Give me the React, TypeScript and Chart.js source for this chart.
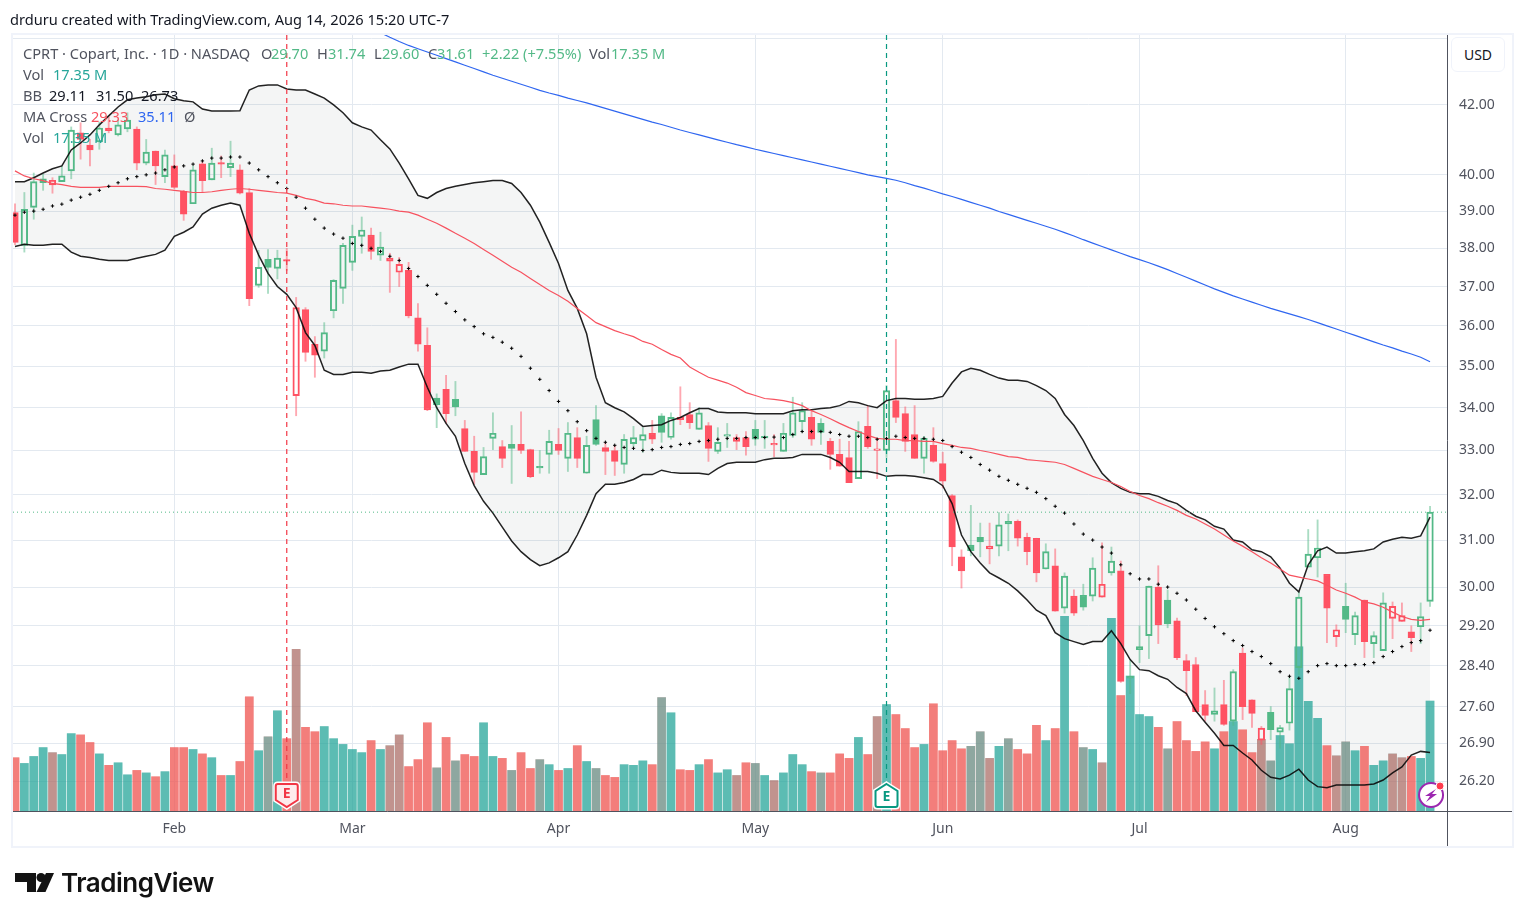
import React, { useEffect, useRef } from "react";
import { Chart, registerables } from "chart.js";

Chart.register(...registerables);

const opens = [38.96,38.08,39.1,39.78,39.72,39.81,40.11,41.19,40.84,40.93,41.33,41.13,41.3,41.3,40.33,40.67,39.95,40.25,39.54,39.2,40.31,39.86,40.31,40.2,40.14,39.51,37.03,37.71,37.47,37.68,34.29,36.41,35.54,35.37,36.38,36.95,37.63,38.32,38.35,37.82,37.66,37.37,37.42,36.2,35.51,34.23,34.44,34.2,33.51,32.98,32.45,33.28,33.09,33.14,33.14,33.02,32.62,32.91,33.14,32.82,33.3,32.48,33.72,33.07,33.0,32.68,33.16,33.23,33.4,33.81,33.3,33.77,33.84,33.49,33.58,32.98,33.33,33.21,33.3,33.49,33.29,33.13,32.98,33.35,33.67,33.77,33.63,33.21,32.91,32.84,32.36,33.56,33.0,33.0,34.17,33.86,33.37,32.82,33.12,32.7,31.98,30.64,30.89,31.06,30.81,30.87,31.41,31.41,31.06,31.04,30.38,30.45,29.56,29.81,29.83,29.81,29.79,30.3,30.34,28.15,28.72,29.0,30.0,29.73,29.3,28.5,28.42,27.64,27.45,27.64,27.32,28.65,27.73,26.96,27.49,27.11,27.28,28.36,30.42,30.62,30.27,28.98,29.6,29.02,29.73,28.84,28.7,29.35,29.29,29.08,29.18,29.7];
const highs = [39.2,39.51,40.05,40.02,39.92,40.25,41.36,41.48,41.0,41.5,41.65,41.56,41.77,41.36,41.0,40.67,40.7,40.56,39.57,40.25,40.36,40.75,40.53,40.95,40.28,39.62,37.95,37.97,37.95,38.0,36.72,36.46,35.73,36.08,37.18,38.13,38.62,38.84,38.54,38.43,37.87,37.76,37.63,36.56,35.95,34.33,34.78,34.63,33.7,33.33,33.07,33.88,33.23,33.58,33.9,33.03,33.0,33.47,33.51,33.65,33.53,33.33,34.05,33.19,33.12,33.37,33.56,33.53,33.7,33.86,33.88,34.5,34.12,34.0,33.65,33.53,33.63,33.37,33.44,33.7,33.7,33.37,33.63,34.25,34.12,33.93,33.74,33.28,33.26,33.21,33.67,34.05,33.28,34.53,35.66,34.02,34.05,33.33,33.53,32.96,32.0,30.79,31.76,31.37,31.37,31.6,31.57,31.44,31.15,31.04,30.92,30.81,30.3,29.94,30.06,30.62,30.94,30.85,30.55,28.5,29.2,30.02,30.45,29.94,29.36,28.62,28.56,27.91,27.96,28.11,28.32,28.75,27.73,27.22,27.6,27.24,28.17,29.9,31.23,31.44,30.27,29.22,30.08,29.48,29.73,29.08,29.88,29.69,29.67,29.2,29.67,31.74];
const lows = [38.1,37.9,38.78,39.57,39.49,39.81,39.89,40.44,40.25,40.72,41.19,41.1,41.22,40.14,40.28,39.73,39.78,39.62,38.75,39.2,39.51,39.86,39.92,39.95,39.47,36.51,36.98,36.82,37.2,37.42,33.81,35.12,34.73,35.2,36.2,36.57,37.42,37.87,37.71,37.68,36.85,37.0,36.2,35.37,33.93,33.53,33.63,33.81,32.98,32.23,32.45,33.02,32.61,32.25,32.93,32.38,32.48,32.48,32.91,32.52,32.61,32.48,33.12,32.45,32.43,32.48,33.09,32.96,33.16,33.19,33.26,33.6,33.51,33.49,32.75,32.93,33.07,33.02,32.89,33.12,33.05,32.86,32.98,33.3,33.42,33.12,33.14,32.57,32.64,32.27,32.36,33.05,32.36,32.84,33.65,32.98,32.82,32.48,32.73,32.15,30.45,29.98,30.66,30.64,30.49,30.66,30.77,30.87,30.47,30.11,30.38,29.5,29.46,29.41,29.52,29.71,29.79,30.25,28.07,27.85,28.46,28.54,28.84,29.16,28.52,27.81,27.5,27.32,27.32,27.24,27.24,27.35,27.2,26.88,26.97,26.81,27.15,28.22,30.42,30.21,28.86,28.78,29.06,28.82,28.56,28.56,28.7,28.94,29.29,28.68,28.84,29.6];
const closes = [38.16,39.05,39.81,39.89,39.85,39.97,41.27,41.0,40.7,41.33,41.25,41.42,41.56,40.33,40.64,40.25,40.56,39.65,38.92,40.14,39.84,40.33,40.3,40.33,39.49,36.69,37.5,37.5,37.74,37.66,36.46,35.34,35.27,35.83,37.16,38.08,38.32,38.49,37.92,38.03,37.74,37.58,36.25,35.54,33.95,34.07,33.86,34.02,32.98,32.5,32.86,33.4,32.82,33.05,33.0,32.4,32.6,33.21,33.0,33.4,32.82,33.12,33.14,32.98,32.75,33.26,33.3,33.37,33.26,33.42,33.77,33.72,33.65,33.88,33.05,33.19,33.35,33.3,33.09,33.26,33.31,33.15,33.4,33.88,33.93,33.26,33.42,32.91,32.64,32.27,33.44,33.09,33.04,34.41,33.77,33.21,32.82,33.28,32.75,32.3,30.85,30.34,30.77,30.96,30.87,31.33,31.35,31.04,30.75,30.3,30.75,29.5,30.23,29.46,29.58,30.4,30.06,30.55,28.09,28.19,28.78,30.02,29.22,29.24,28.56,28.3,27.5,27.43,27.52,27.26,28.28,27.6,27.47,27.19,27.16,27.2,27.95,29.79,30.7,30.83,29.56,29.12,29.33,29.41,28.88,29.0,29.67,29.6,29.41,28.96,29.39,31.61];
// g: closed above the previous close, r: closed below it
const closeToneRuns = "r ggg r gg rr g r gg r g r g rr g r g r g rr ggg rrrr ggggg r g rrrrr g r g rr gg r g rr gg r g r gg rr ggg r gg rr g r gg rr gg r ggg r g rrr g rr g rrr g rrrr gg r gg rrr g r g r gg r g r ggg r g rrrr g r g rrr gggggg rr gg r gg rrr gg";
const volumes = [8.4,7.5,8.6,10.0,9.2,8.9,12.2,12.0,10.8,9.0,7.2,7.6,5.7,6.4,6.0,5.4,6.2,10.0,10.0,9.7,9.0,8.4,5.6,5.6,7.8,18.0,9.5,11.7,15.8,11.4,25.5,13.2,12.5,13.3,11.4,10.5,9.7,9.2,11.1,9.7,10.3,12.0,7.0,8.1,13.9,6.8,11.6,7.9,8.9,8.6,13.9,8.6,8.3,6.4,9.2,6.7,8.1,7.3,6.4,6.7,10.3,7.8,6.7,5.6,5.3,7.3,7.2,7.9,7.3,17.9,15.5,6.5,6.4,7.3,8.1,6.0,6.5,5.6,7.6,7.5,5.6,4.8,6.0,8.9,7.3,6.2,6.0,6.0,9.0,8.3,11.6,8.9,14.9,16.8,15.2,13.0,10.0,10.5,16.9,9.5,11.1,9.8,10.2,12.5,8.3,10.2,11.4,9.7,9.0,13.5,11.1,13.0,30.7,12.5,10.0,9.7,7.6,30.4,18.2,21.3,15.2,14.9,13.2,9.8,14.1,11.1,9.4,10.9,9.8,12.5,14.1,12.8,9.2,11.3,7.9,11.9,10.6,25.9,17.3,14.6,10.3,8.7,10.9,9.5,10.2,7.2,7.9,9.0,8.4,8.6,8.3,17.35];
const bbBasis = [38.89,38.97,39.0,39.05,39.14,39.19,39.3,39.38,39.46,39.57,39.68,39.78,39.89,39.95,40.0,40.05,40.14,40.22,40.25,40.3,40.39,40.47,40.47,40.5,40.5,40.33,40.14,39.95,39.78,39.62,39.38,39.08,38.78,38.54,38.38,38.27,38.13,38.08,38.0,37.92,37.79,37.68,37.47,37.26,37.03,36.8,36.57,36.36,36.15,35.98,35.8,35.71,35.59,35.44,35.24,34.95,34.68,34.41,34.15,33.93,33.67,33.46,33.28,33.19,33.12,33.07,33.05,33.0,33.02,33.07,33.09,33.14,33.16,33.21,33.23,33.26,33.28,33.28,33.3,33.3,33.3,33.31,33.3,33.37,33.44,33.44,33.44,33.42,33.37,33.33,33.33,33.3,33.26,33.28,33.33,33.3,33.28,33.28,33.26,33.23,33.09,32.96,32.84,32.68,32.55,32.41,32.32,32.23,32.14,32.05,31.91,31.74,31.59,31.35,31.13,31.0,30.85,30.72,30.47,30.28,30.17,30.17,30.06,30.0,29.87,29.73,29.54,29.35,29.18,29.04,28.9,28.8,28.68,28.58,28.44,28.28,28.19,28.15,28.28,28.4,28.44,28.4,28.4,28.42,28.42,28.46,28.58,28.68,28.78,28.86,28.9,29.11];
const bbUpper = [39.81,39.81,39.92,40.05,40.17,40.25,40.7,40.9,41.13,41.42,41.68,41.94,42.15,42.2,42.24,42.3,42.32,42.18,42.12,42.09,41.88,41.82,41.82,41.82,41.83,42.44,42.56,42.59,42.59,42.47,42.44,42.44,42.32,42.2,42.0,41.77,41.48,41.36,41.27,40.99,40.73,40.33,39.89,39.43,39.35,39.51,39.62,39.68,39.73,39.78,39.81,39.84,39.84,39.76,39.51,39.16,38.7,38.16,37.6,36.9,36.44,35.8,34.73,34.12,34.0,33.9,33.74,33.56,33.58,33.6,33.7,33.77,33.88,33.98,33.98,33.9,33.88,33.88,33.88,33.86,33.86,33.86,33.86,33.93,33.95,33.95,33.98,34.0,34.05,34.15,34.12,34.05,34.0,34.17,34.22,34.22,34.2,34.2,34.22,34.27,34.59,34.86,34.95,34.9,34.8,34.71,34.66,34.66,34.63,34.53,34.41,34.22,33.84,33.58,33.23,32.82,32.48,32.27,32.14,32.05,32.02,32.02,31.96,31.87,31.8,31.65,31.52,31.44,31.3,31.24,31.0,30.96,30.79,30.75,30.64,30.4,30.08,29.9,30.47,30.77,30.85,30.72,30.72,30.75,30.77,30.81,30.96,31.02,31.06,31.04,31.09,31.5];
const bbLower = [38.05,38.11,38.08,38.08,38.11,38.11,37.9,37.79,37.76,37.71,37.68,37.68,37.68,37.74,37.79,37.84,37.95,38.32,38.43,38.57,38.92,39.08,39.16,39.22,39.16,38.4,37.82,37.34,37.0,36.8,36.46,35.83,35.51,34.9,34.8,34.8,34.85,34.85,34.83,34.88,34.9,34.98,35.05,35.05,34.49,34.0,33.63,33.33,32.7,32.2,31.85,31.59,31.28,30.98,30.75,30.58,30.45,30.51,30.62,30.75,31.11,31.54,32.02,32.23,32.23,32.27,32.34,32.45,32.45,32.55,32.5,32.48,32.48,32.48,32.45,32.59,32.7,32.73,32.73,32.73,32.79,32.82,32.82,32.84,32.91,32.91,32.91,32.84,32.73,32.52,32.52,32.52,32.48,32.41,32.43,32.43,32.41,32.38,32.34,32.2,31.8,31.11,30.75,30.51,30.3,30.19,30.08,29.92,29.73,29.52,29.41,29.06,28.94,28.88,28.82,28.88,28.88,29.1,28.84,28.52,28.32,28.3,28.2,28.13,27.97,27.85,27.52,27.3,27.09,26.86,26.86,26.72,26.59,26.4,26.27,26.24,26.31,26.42,26.22,26.1,26.08,26.13,26.13,26.13,26.13,26.15,26.22,26.35,26.46,26.68,26.75,26.73];
const ma50 = [40.11,39.97,39.89,39.84,39.76,39.73,39.68,39.65,39.65,39.65,39.68,39.68,39.68,39.68,39.67,39.62,39.6,39.57,39.54,39.51,39.51,39.53,39.57,39.6,39.62,39.6,39.57,39.54,39.51,39.49,39.43,39.35,39.3,39.22,39.2,39.16,39.14,39.14,39.11,39.08,39.05,39.0,38.97,38.89,38.78,38.67,38.54,38.4,38.27,38.13,37.97,37.82,37.66,37.5,37.37,37.21,37.05,36.9,36.77,36.62,36.44,36.26,36.08,35.98,35.88,35.8,35.73,35.61,35.54,35.41,35.29,35.2,34.98,34.85,34.73,34.66,34.59,34.49,34.36,34.29,34.22,34.2,34.17,34.12,34.05,33.93,33.84,33.74,33.63,33.53,33.44,33.35,33.28,33.26,33.26,33.23,33.23,33.21,33.21,33.16,33.12,33.07,33.05,33.0,32.96,32.91,32.86,32.84,32.79,32.77,32.75,32.73,32.68,32.59,32.5,32.41,32.34,32.27,32.18,32.07,31.98,31.91,31.82,31.74,31.65,31.54,31.46,31.35,31.24,31.11,30.98,30.87,30.75,30.62,30.51,30.38,30.25,30.21,30.17,30.13,30.04,29.94,29.87,29.79,29.69,29.65,29.58,29.48,29.39,29.33,29.31,29.33];
const ma200Start = 39;
const ma200 = [44.17,44.03,43.9,43.78,43.68,43.58,43.48,43.38,43.28,43.18,43.08,42.98,42.88,42.79,42.7,42.61,42.52,42.43,42.35,42.28,42.2,42.13,42.06,41.98,41.9,41.82,41.74,41.66,41.58,41.5,41.43,41.35,41.27,41.2,41.13,41.06,40.99,40.92,40.85,40.79,40.72,40.66,40.6,40.54,40.48,40.42,40.36,40.3,40.24,40.18,40.12,40.06,40.0,39.95,39.9,39.85,39.78,39.7,39.63,39.55,39.47,39.4,39.32,39.24,39.16,39.08,38.99,38.91,38.83,38.75,38.67,38.59,38.51,38.42,38.33,38.23,38.14,38.05,37.96,37.87,37.78,37.7,37.62,37.53,37.44,37.34,37.24,37.14,37.04,36.94,36.85,36.76,36.68,36.6,36.52,36.44,36.37,36.3,36.23,36.16,36.08,36.0,35.92,35.84,35.76,35.68,35.6,35.52,35.45,35.37,35.3,35.22,35.11];

const priceTicks = [44,42,40,39,38,37,36,35,34,33,32,31,30,29.2,28.4,27.6,26.9,26.2];
const unlabelledPriceTicks = [44];
const monthTickIndex = [17,36,58,79,99,120,142];
const monthTickName = ["Feb","Mar","Apr","May","Jun","Jul","Aug"];
const earningsIndex = [29,93];
const earningsColor = ["#f23645","#089981"];
const closeTone = closeToneRuns.split(" ").join("");
const lastClose = closes[closes.length - 1];

const UI_FONT = "'Noto Sans', 'Open Sans', sans-serif";
const GREEN = "#53b987";
const RED = "#ff5263";
const GREEN_WICK = "rgba(83,185,135,0.5)";
const RED_WICK = "rgba(255,82,99,0.5)";
const VOL_UP = "rgba(38,166,154,0.5)";
const VOL_DOWN = "rgba(239,83,80,0.5)";
const GRID = "#e3e9f0";
const AXIS = "#50535e";

const sessions = closes.map((_, i) => i);
const toneColor = sessions.map((i) => (closeTone[i] === "g" ? GREEN : RED));
const wickColor = sessions.map((i) => (closeTone[i] === "g" ? GREEN_WICK : RED_WICK));

function drawBadge(ctx: CanvasRenderingContext2D, x: number, color: string, pointUp: boolean) {
  const l = x - 11, r = x + 11, t = 784, b = 807;
  const path = () => {
    ctx.beginPath();
    if (pointUp) {
      ctx.moveTo(x, t); ctx.lineTo(r, t + 7); ctx.lineTo(r, b - 2);
      ctx.quadraticCurveTo(r, b, r - 2, b); ctx.lineTo(l + 2, b);
      ctx.quadraticCurveTo(l, b, l, b - 2); ctx.lineTo(l, t + 7);
    } else {
      ctx.moveTo(l + 2, t); ctx.lineTo(r - 2, t); ctx.quadraticCurveTo(r, t, r, t + 2);
      ctx.lineTo(r, b - 7); ctx.lineTo(x, b); ctx.lineTo(l, b - 7); ctx.lineTo(l, t + 2);
      ctx.quadraticCurveTo(l, t, l + 2, t);
    }
    ctx.closePath();
  };
  ctx.save();
  path();
  ctx.strokeStyle = "#ffffff"; ctx.lineWidth = 5; ctx.stroke();
  ctx.fillStyle = "#ffffff"; ctx.fill();
  ctx.strokeStyle = color; ctx.lineWidth = 2; ctx.stroke();
  if (!pointUp) { ctx.fillStyle = "rgba(242,54,69,0.1)"; ctx.fill(); }
  ctx.fillStyle = color;
  ctx.font = "bold 14px " + UI_FONT;
  ctx.textAlign = "center"; ctx.textBaseline = "middle";
  ctx.fillText("E", x, pointUp ? 797 : 794);
  ctx.restore();
}

function drawBolt(ctx: CanvasRenderingContext2D, cx: number, cy: number) {
  ctx.save();
  ctx.beginPath(); ctx.arc(cx, cy, 12, 0, Math.PI * 2);
  ctx.fillStyle = "#ffffff"; ctx.fill();
  ctx.strokeStyle = "#9c27b0"; ctx.lineWidth = 2; ctx.stroke();
  ctx.beginPath();
  ctx.moveTo(cx + 5, cy - 6); ctx.lineTo(cx - 6, cy + 1); ctx.lineTo(cx - 1, cy + 1);
  ctx.lineTo(cx - 5, cy + 7); ctx.lineTo(cx + 6, cy - 1); ctx.lineTo(cx + 1, cy - 1);
  ctx.closePath();
  ctx.fillStyle = "#9c27b0"; ctx.fill();
  ctx.beginPath(); ctx.arc(cx + 9, cy - 9, 4, 0, Math.PI * 2);
  ctx.fillStyle = "#ff3b4e"; ctx.fill();
  ctx.strokeStyle = "#ffffff"; ctx.lineWidth = 1; ctx.stroke();
  ctx.restore();
}

const framePlugin = {
  id: "frame",
  beforeDraw(chart: any) {
    const { ctx, chartArea: a } = chart;
    ctx.save();
    ctx.fillStyle = "#ffffff";
    ctx.fillRect(0, 0, chart.width, chart.height);
    ctx.strokeStyle = "#f0f3fa";
    ctx.lineWidth = 2;
    ctx.strokeRect(a.left - 1, a.top - 1, 1512 - a.left + 2, 846 - a.top + 2);
    ctx.restore();
  },
  afterDatasetsDraw(chart: any) {
    const { ctx, chartArea: a, scales } = chart;
    ctx.save();
    ctx.strokeStyle = GREEN;
    ctx.lineWidth = 1;
    ctx.setLineDash([1, 3]);
    const yLast = scales.y.getPixelForValue(lastClose);
    ctx.beginPath(); ctx.moveTo(a.left, yLast); ctx.lineTo(a.right, yLast); ctx.stroke();
    ctx.setLineDash([5, 4]);
    ctx.lineWidth = 1.2;
    earningsIndex.forEach((idx, k) => {
      const x = scales.x.getPixelForValue(idx);
      ctx.strokeStyle = earningsColor[k];
      ctx.beginPath(); ctx.moveTo(x, a.top); ctx.lineTo(x, 784); ctx.stroke();
    });
    ctx.setLineDash([]);
    ctx.strokeStyle = AXIS;
    ctx.lineWidth = 1;
    ctx.beginPath();
    ctx.moveTo(a.left, a.bottom + 0.5); ctx.lineTo(1512, a.bottom + 0.5);
    ctx.moveTo(a.right + 0.5, a.top); ctx.lineTo(a.right + 0.5, 846);
    ctx.stroke();
    ctx.restore();
    earningsIndex.forEach((idx, k) => drawBadge(ctx, scales.x.getPixelForValue(idx), earningsColor[k], k === 1));
    drawBolt(ctx, scales.x.getPixelForValue(sessions.length - 1) + 1, 795);
  },
};

type SegProps = { left: number; top: number; color: string; children: React.ReactNode };
const Seg = ({ left, top, color, children }: SegProps) => (
  <span style={{ position: "absolute", left, top: top - 11, lineHeight: "20px", color, whiteSpace: "nowrap", fontFamily: UI_FONT, fontSize: 14.6 }}>
    {children}
  </span>
);

export default function App() {
  const ref = useRef<HTMLCanvasElement | null>(null);

  useEffect(() => {
    const canvas = ref.current!;
    const lineBase = { type: "line", pointRadius: 0, tension: 0, yAxisID: "y", xAxisID: "x" };
    const barBase = { type: "bar", grouped: false, yAxisID: "y", xAxisID: "x", borderSkipped: false };
    const chart = new Chart(canvas, {
      type: "bar",
      plugins: [framePlugin],
      data: {
        labels: sessions,
        datasets: [
          { ...lineBase, label: "BB upper", data: bbUpper, borderColor: "rgba(10,10,10,0.9)", borderWidth: 1.5, fill: "+1", backgroundColor: "rgba(60,80,80,0.055)", order: 4 },
          { ...lineBase, label: "BB lower", data: bbLower, borderColor: "rgba(10,10,10,0.9)", borderWidth: 1.5, fill: false, order: 5 },
          { ...lineBase, label: "BB basis", data: bbBasis, showLine: false, pointStyle: "cross", pointRadius: 1.7, pointBorderWidth: 1, pointBorderColor: "#000000", order: 1 },
          { ...lineBase, label: "MA 50", data: ma50, borderColor: "#f7525f", borderWidth: 1.2, fill: false, order: 3 },
          { ...lineBase, label: "MA 200", data: sessions.map((i) => (i < ma200Start ? null : ma200[i - ma200Start])), borderColor: "#2f66f0", borderWidth: 1.2, fill: false, order: 2 },
          { ...barBase, label: "Body", data: sessions.map((i) => [opens[i], closes[i]]), barThickness: 6.6, minBarLength: 1.6, borderWidth: 1.3, borderColor: toneColor, backgroundColor: sessions.map((i) => (closes[i] < opens[i] ? toneColor[i] : "rgba(0,0,0,0)")), order: 10 },
          { ...barBase, label: "Upper wick", data: sessions.map((i) => [Math.max(opens[i], closes[i]), highs[i]]), barThickness: 1.2, backgroundColor: wickColor, order: 11 },
          { ...barBase, label: "Lower wick", data: sessions.map((i) => [lows[i], Math.min(opens[i], closes[i])]), barThickness: 1.2, backgroundColor: wickColor, order: 12 },
          { ...barBase, label: "Vol by close", yAxisID: "yVol", data: volumes, barThickness: 8, backgroundColor: sessions.map((i) => (closeTone[i] === "g" ? VOL_UP : VOL_DOWN)), order: 20 },
          { ...barBase, label: "Vol by candle", yAxisID: "yVol", data: volumes, barThickness: 8, backgroundColor: sessions.map((i) => (closes[i] >= opens[i] ? VOL_UP : VOL_DOWN)), order: 21 },
        ] as any,
      },
      options: {
        responsive: false,
        animation: false,
        devicePixelRatio: 1,
        events: [],
        layout: { padding: { left: 13, top: 35, right: 13, bottom: 75 } },
        plugins: { legend: { display: false }, tooltip: { enabled: false }, title: { display: false }, filler: { drawTime: "beforeDatasetsDraw", propagate: false } },
        scales: {
          x: {
            type: "linear",
            offset: false,
            min: -0.213,
            max: 152.81,
            position: "bottom",
            afterFit(s: any) { s.height = 35; },
            afterBuildTicks(s: any) { s.ticks = monthTickIndex.map((value) => ({ value })); },
            grid: { color: GRID, lineWidth: 1, drawTicks: false, offset: false },
            border: { display: false },
            ticks: {
              autoSkip: false, maxRotation: 0, padding: 10, color: "#50535e",
              font: { family: UI_FONT, size: 14 },
              callback: (v: any) => monthTickName[monthTickIndex.indexOf(Number(v))] ?? "",
            },
          },
          y: {
            type: "logarithmic",
            position: "right",
            min: 25.66,
            max: 44.1,
            afterFit(s: any) { s.width = 65; },
            afterBuildTicks(s: any) { s.ticks = priceTicks.map((value) => ({ value })); },
            grid: { color: GRID, lineWidth: 1, drawTicks: false },
            border: { display: false },
            ticks: {
              autoSkip: false, padding: 12, color: "#50535e",
              font: { family: UI_FONT, size: 14 },
              callback: (v: any) => (unlabelledPriceTicks.includes(Number(v)) ? "" : Number(v).toFixed(2)),
            },
          },
          yVol: { type: "linear", display: false, min: 0, max: 122.4, grid: { display: false } },
        },
      } as any,
    });
    return () => chart.destroy();
  }, []);

  const label = "#50535e";
  return (
    <div style={{ position: "absolute", left: 0, top: 0, width: 1525, height: 921, overflow: "hidden", background: "#ffffff" }}>
      <canvas ref={ref} width={1525} height={921} style={{ position: "absolute", left: 0, top: 0, display: "block" }} />
      <span style={{ position: "absolute", left: 10, top: 9, lineHeight: "20px", fontFamily: UI_FONT, fontSize: 14.6, color: "#131722", whiteSpace: "nowrap" }}>
        drduru created with TradingView.com, Aug 14, 2026 15:20 UTC-7
      </span>

      <Seg left={23} top={54} color={label}>CPRT · Copart, Inc. · 1D · NASDAQ</Seg>
      <Seg left={261} top={54} color={label}>O</Seg>
      <Seg left={271} top={54} color={GREEN}>29.70</Seg>
      <Seg left={317} top={54} color={label}>H</Seg>
      <Seg left={328} top={54} color={GREEN}>31.74</Seg>
      <Seg left={374} top={54} color={label}>L</Seg>
      <Seg left={382} top={54} color={GREEN}>29.60</Seg>
      <Seg left={428} top={54} color={label}>C</Seg>
      <Seg left={437} top={54} color={GREEN}>31.61</Seg>
      <Seg left={482} top={54} color={GREEN}>+2.22 (+7.55%)</Seg>
      <Seg left={589} top={54} color={label}>Vol</Seg>
      <Seg left={611} top={54} color={GREEN}>17.35 M</Seg>

      <Seg left={23} top={75} color={label}>Vol</Seg>
      <Seg left={53} top={75} color="#26a69a">17.35 M</Seg>

      <Seg left={23} top={96} color={label}>BB</Seg>
      <Seg left={49} top={96} color="#131722">29.11</Seg>
      <Seg left={96} top={96} color="#131722">31.50</Seg>
      <Seg left={141} top={96} color="#131722">26.73</Seg>

      <Seg left={23} top={117} color={label}>MA Cross</Seg>
      <Seg left={91} top={117} color="#f7525f">29.33</Seg>
      <Seg left={138} top={117} color="#2f66f0">35.11</Seg>
      <Seg left={184} top={117} color={label}>Ø</Seg>

      <Seg left={23} top={138} color={label}>Vol</Seg>
      <Seg left={53} top={138} color="#26a69a">17.35 M</Seg>

      <div style={{ position: "absolute", left: 1451, top: 37, width: 52, height: 33, border: "1px solid #f0f3fa", borderRadius: 6, textAlign: "center", lineHeight: "33px", fontFamily: UI_FONT, fontSize: 14, color: "#131722", background: "#ffffff" }}>
        USD
      </div>

      <svg width={44} height={24} viewBox="0 0 44 24" style={{ position: "absolute", left: 14, top: 871 }}>
        <path d="M1 2h21v19h-9V11H1z" fill="#131313" />
        <circle cx="27" cy="6.5" r="4.5" fill="#131313" />
        <path d="M32 2h8l-8.5 19h-9z" fill="#131313" />
      </svg>
      <span style={{ position: "absolute", left: 61, top: 866, lineHeight: "34px", fontFamily: "Inter, 'Noto Sans', sans-serif", fontWeight: 600, fontSize: 26, letterSpacing: -0.5, color: "#131313", whiteSpace: "nowrap" }}>
        TradingView
      </span>
    </div>
  );
}
